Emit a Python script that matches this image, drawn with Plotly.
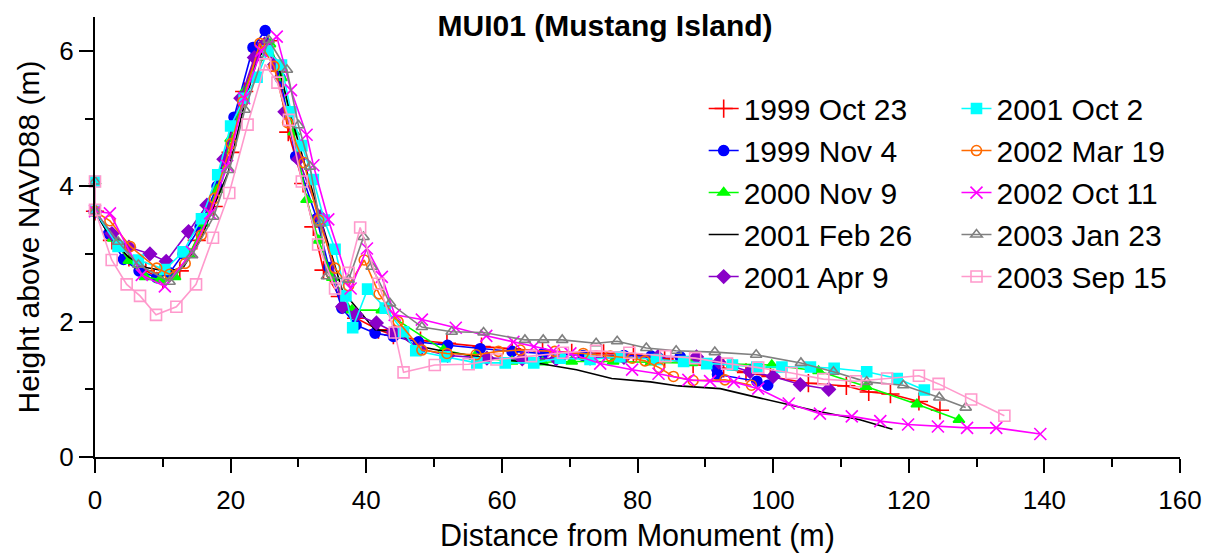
import plotly.graph_objects as go

# survey dates (legend labels)
names = ['1999 Oct 23', '1999 Nov 4', '2000 Nov 9', '2001 Feb 26', '2001 Apr 9',
         '2001 Oct 2', '2002 Mar 19', '2002 Oct 11', '2003 Jan 23', '2003 Sep 15']

# profile data: distance (m), height (m)
x_oct99 = [0, 2.5, 5, 7.5, 10, 12.5, 15, 17.5, 20, 22, 24, 25.5, 27, 28.5, 30.7, 32.2, 33.7, 36.1,
           38.5, 41.8, 44.0, 48, 51.9, 57.0, 61.5, 66.0, 70.3, 75.0, 79.4, 84, 88.2, 92.7, 96, 99.6,
           105.2, 110.8, 114.1, 117.3, 121.5, 124.6]
y_oct99 = [3.63, 3.2, 2.95, 2.75, 2.62, 2.75, 3.2, 3.7, 4.5, 5.4, 6.0, 6.15, 5.7, 4.8, 4.04, 3.40,
           2.76, 2.37, 2.05, 1.88, 1.80, 1.72, 1.68, 1.63, 1.60, 1.56, 1.54, 1.53, 1.52, 1.45, 1.37,
           1.31, 1.25, 1.19, 1.09, 1.05, 0.96, 0.93, 0.82, 0.69]

x_nov99 = [0, 2, 4.2, 6.5, 9.1, 11, 13, 15.5, 18, 20.5, 23.3, 25.1, 27.3, 29.6, 32.7, 34.5, 36.4,
           38.5, 41.3, 44, 47.7, 52, 56.8, 61.5, 66.1, 72, 78, 82, 86.3, 91.7, 91.8, 97.6, 99.2]
y_nov99 = [3.63, 3.3, 2.92, 2.75, 2.65, 2.72, 3.0, 3.4, 4.0, 5.02, 6.05, 6.30, 5.6, 4.44, 3.52, 2.8,
           2.2, 1.95, 1.83, 1.78, 1.70, 1.65, 1.60, 1.56, 1.53, 1.50, 1.50, 1.49, 1.48, 1.30, 1.22,
           1.12, 1.06]

x_nov00 = [0, 0, 2.7, 5, 7.4, 9.6, 11.8, 14, 16, 18, 20, 22, 24, 25.8, 27.5, 29.3, 31.2, 33, 35,
           37.9, 42.3, 51.4, 56, 61.5, 66, 70.3, 76.4, 82, 88, 94, 99.8, 106.7, 113.7, 121.2, 127.4]
y_nov00 = [4.07, 3.63, 3.23, 2.9, 2.66, 2.62, 2.66, 3.0, 3.45, 3.95, 4.7, 5.4, 5.9, 6.1, 5.6, 4.8,
           3.80, 3.2, 2.65, 2.17, 2.17, 1.58, 1.48, 1.41, 1.40, 1.41, 1.41, 1.40, 1.39, 1.37, 1.36,
           1.27, 1.04, 0.78, 0.55]

x_feb01 = [0, 2.5, 5, 7.5, 10.8, 13, 15.5, 17.5, 19.6, 22, 24, 25.5, 27, 29, 31, 33, 35, 36.5,
           38.6, 41.3, 44.5, 47, 52, 56.8, 61, 65.6, 68.6, 71, 76.2, 81.9, 86.0, 92.2, 98.1, 105.9,
           112.8, 117.6]
y_feb01 = [3.63, 3.2, 2.95, 2.8, 2.74, 2.8, 3.2, 3.7, 4.19, 5.2, 5.9, 6.05, 5.8, 5.0, 4.3, 3.6,
           2.95, 2.45, 2.20, 1.88, 1.85, 1.65, 1.55, 1.48, 1.43, 1.38, 1.33, 1.29, 1.16, 1.11, 1.05,
           1.01, 0.87, 0.69, 0.55, 0.41]

x_apr01 = [0, 2.5, 5, 8.1, 10.5, 13.8, 16.5, 19, 21.5, 23.5, 25, 26.5, 28, 30, 33.2, 36.5, 38.5,
           41.5, 44, 48, 52, 57.8, 63, 68, 73, 78, 83, 88.7, 92, 96.6, 100, 104, 108.2]
y_apr01 = [3.63, 3.3, 3.1, 3.00, 2.89, 3.33, 3.72, 4.4, 5.3, 5.9, 6.1, 5.8, 5.1, 4.4, 3.55, 2.22,
           2.1, 1.98, 1.85, 1.6, 1.5, 1.46, 1.45, 1.45, 1.46, 1.47, 1.48, 1.48, 1.40, 1.26, 1.19,
           1.07, 1.00]

x_oct01 = [0, 0, 3.4, 6.4, 10.3, 13.0, 15.7, 18.1, 20.0, 22, 23.9, 25.5, 27.5, 28.9, 30.5, 32.2,
           33.8, 35.4, 37.0, 38.0, 40.2, 42.8, 45.5, 47.3, 51.6, 56.3, 60.5, 64.7, 68.6, 73.0, 77.4,
           82.8, 86.8, 90.2, 94, 97.6, 101.3, 105.5, 109.0, 113.8, 118.3, 122.3]
y_oct01 = [4.07, 3.63, 3.11, 2.91, 2.77, 3.03, 3.52, 4.17, 4.89, 5.3, 5.61, 6.0, 5.79, 5.10, 4.6,
           4.1, 3.5, 3.07, 2.38, 1.91, 2.48, 2.2, 1.85, 1.57, 1.48, 1.39, 1.39, 1.39, 1.46, 1.44,
           1.48, 1.44, 1.41, 1.38, 1.36, 1.33, 1.33, 1.33, 1.31, 1.26, 1.16, 0.99]

x_mar02 = [0, 2.2, 5.2, 9.1, 11.0, 13.3, 15.7, 17.6, 20.1, 21.8, 24.3, 26.4, 28.4, 30.8, 33, 35.4,
           37.4, 39.7, 41.9, 44.7, 48.2, 51.9, 56.2, 59.5, 62.7, 67.8, 72, 76.0, 79.2, 81.1, 83.2,
           85.3, 88.2, 92.9, 96.8]
y_mar02 = [3.63, 3.49, 3.11, 2.79, 2.70, 2.86, 3.28, 3.82, 4.63, 5.25, 6.11, 5.77, 4.94, 4.35, 3.5,
           2.79, 2.53, 2.91, 2.41, 2.00, 1.58, 1.53, 1.51, 1.56, 1.58, 1.56, 1.53, 1.49, 1.46, 1.42,
           1.32, 1.19, 1.13, 1.14, 1.06]

x_oct02 = [0, 2.2, 6.9, 10.3, 14.3, 17, 19.5, 22, 24.5, 26.8, 28.9, 31.2, 32.2, 34.4, 37.7, 40.1,
           42.3, 44.2, 48.2, 53.2, 57.7, 61.7, 64.7, 67.6, 70.1, 74.5, 79.2, 83.1, 87.5, 90.7, 94.2,
           97.8, 102.3, 106.9, 111.6, 115.8, 119.9, 124.3, 128.6, 132.9, 139.4]
y_oct02 = [3.63, 3.6, 2.69, 2.52, 3.03, 3.6, 4.3, 5.3, 6.0, 6.21, 5.42, 4.76, 4.31, 3.51, 2.49, 3.08,
           2.66, 2.10, 2.03, 1.91, 1.79, 1.70, 1.63, 1.57, 1.53, 1.38, 1.29, 1.23, 1.14, 1.12, 1.11,
           1.01, 0.79, 0.64, 0.60, 0.53, 0.48, 0.45, 0.43, 0.43, 0.34]

x_jan03 = [0, 0, 3.4, 6.4, 11.0, 14.3, 17.5, 19.8, 22.1, 25.6, 28.3, 30.0, 31.7, 33.2, 34.2, 37.4,
           39.6, 40.8, 43.5, 48.2, 52.6, 57.3, 63.4, 66.1, 68.9, 73.9, 77.0, 81.3, 85.7, 91.4, 97.5,
           104.1, 108.9, 113.8, 119.2, 124.5, 128.4]
y_jan03 = [4.07, 3.63, 3.18, 2.84, 2.59, 2.98, 3.55, 4.24, 5.13, 6.16, 5.72, 4.90, 4.29, 3.45, 2.67,
           2.62, 3.25, 2.81, 2.27, 1.92, 1.85, 1.84, 1.73, 1.73, 1.73, 1.68, 1.71, 1.61, 1.57, 1.55,
           1.51, 1.39, 1.26, 1.11, 1.06, 0.88, 0.73]

x_sep03 = [0, 0, 2.46, 4.67, 6.64, 9.0, 12.0, 14.9, 17.4, 19.8, 22.5, 25.1, 26.9, 28.6, 30.5, 32.9,
           35.4, 37.4, 39.1, 41.8, 44.2, 45.5, 50.1, 55.1, 59.2, 64.3, 69.0, 73.9, 78.8, 84.1, 88.5,
           93.2, 97.8, 102.7, 107.4, 112.2, 116.8, 121.5, 124.4, 129.2, 134.1]
y_sep03 = [4.07, 3.65, 2.91, 2.55, 2.38, 2.10, 2.22, 2.55, 3.24, 3.90, 4.91, 5.80, 5.53, 4.98, 4.07,
           3.14, 2.49, 2.72, 3.39, 2.56, 1.84, 1.25, 1.36, 1.37, 1.44, 1.49, 1.54, 1.57, 1.54, 1.49,
           1.46, 1.38, 1.32, 1.24, 1.15, 1.12, 1.16, 1.20, 1.08, 0.85, 0.61]

xs = [x_oct99, x_nov99, x_nov00, x_feb01, x_apr01, x_oct01, x_mar02, x_oct02, x_jan03, x_sep03]
ys = [y_oct99, y_nov99, y_nov00, y_feb01, y_apr01, y_oct01, y_mar02, y_oct02, y_jan03, y_sep03]

colors = ['#ff0000', '#0000ff', '#00ff00', '#000000', '#8a00c8',
          '#00ffff', '#ff6a00', '#ff00ff', '#808080', '#ff99cc']
symbols = ['cross-thin', 'circle', 'triangle-up', 'circle', 'diamond',
           'square', 'circle-open', 'x-thin', 'triangle-up-open', 'square-open']
sizes = [13, 10, 10, 0, 10, 10, 10, 12, 10, 11]

fig = go.Figure()
for i in range(len(names)):
    mode = 'lines' if sizes[i] == 0 else 'lines+markers'
    fig.add_trace(go.Scatter(
        x=xs[i], y=ys[i], name=names[i], mode=mode,
        line=dict(color=colors[i], width=1.6),
        marker=dict(symbol=symbols[i], size=sizes[i], color=colors[i],
                    line=dict(color=colors[i], width=1.6)),
        cliponaxis=False,
        legendgroup=names[i],
        legend='legend' if i < 5 else 'legend2',
    ))

legend_style = dict(font=dict(size=30, color='black'), traceorder='grouped',
                    tracegroupgap=0, bgcolor='rgba(0,0,0,0)',
                    yanchor='top', y=0.851, xanchor='left')

# the page has an 8px body margin, so the figure is 8px smaller than the window
fig.update_layout(
    width=1202, height=546,
    margin=dict(l=87, r=30, t=9, b=97),
    paper_bgcolor='white', plot_bgcolor='white',
    font=dict(family='Arial, Liberation Sans, sans-serif', size=26, color='black'),
    title=dict(text='<b>MUI01 (Mustang Island)</b>', x=0.4967, xref='container', xanchor='center',
               y=0.968, yref='container', yanchor='middle',
               font=dict(size=30, color='black')),
    legend=dict(x=0.561, **legend_style),
    legend2=dict(x=0.794, **legend_style),
    xaxis=dict(range=[0, 160], dtick=20, showline=True, linecolor='black', linewidth=2,
               ticks='outside', ticklen=14, tickwidth=2, tickcolor='black',
               minor=dict(dtick=10, ticks='outside', ticklen=8, tickwidth=2, tickcolor='black'),
               showgrid=False, zeroline=False, automargin=False, ticklabelstandoff=5,
               title=dict(text='Distance from Monument (m)', standoff=10,
                          font=dict(size=30.5))),
    yaxis=dict(range=[0, 6.5], tickvals=[0, 2, 4, 6], showline=True, linecolor='black',
               linewidth=2, ticks='outside', ticklen=14, tickwidth=2, tickcolor='black',
               minor=dict(tickvals=[1, 3, 5], ticks='outside', ticklen=8, tickwidth=2,
                          tickcolor='black'),
               showgrid=False, zeroline=False, automargin=False,
               title=dict(text='Height above NAVD88 (m)', standoff=11,
                          font=dict(size=30))),
)

fig.write_html('out.html')
